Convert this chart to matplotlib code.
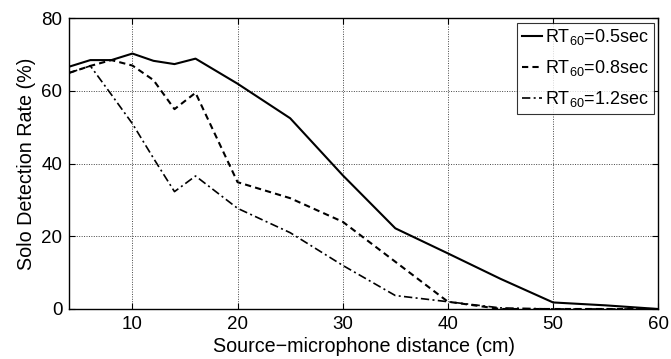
import matplotlib
matplotlib.use("Agg")
import matplotlib.pyplot as plt

plt.rcParams['font.family'] = ['Liberation Sans', 'DejaVu Sans']
plt.rcParams['mathtext.fontset'] = 'custom'
plt.rcParams['mathtext.rm'] = 'Liberation Sans'

distance = [4, 6, 8, 10, 12, 14, 16, 20, 25, 30, 35, 40, 45, 50, 55, 60]
rt_05 = [66.7, 68.5, 68.5, 70.3, 68.3, 67.4, 68.9, 62.0, 52.5, 36.8, 22.2, 15.3, 8.3, 1.8, 1.0, 0.0]
rt_08 = [65.0, 66.9, 68.5, 67.0, 63.0, 55.0, 59.5, 34.9, 30.5, 24.0, 13.0, 2.0, 0.0, 0.0, 0.0, 0.0]
rt_12 = [65.0, 66.9, 59.0, 51.0, 41.5, 32.3, 36.6, 27.7, 21.0, 12.0, 3.7, 2.0, 0.3, 0.0, 0.0, 0.0]
labels = [r'RT$_{60}$=0.5sec', r'RT$_{60}$=0.8sec', r'RT$_{60}$=1.2sec']

fig = plt.figure(figsize=(6.71, 3.59), dpi=100)
ax = fig.add_axes([0.1033, 0.1393, 0.8777, 0.8097])

ax.plot(distance, rt_05, color='black', lw=1.5, ls='-', label=labels[0])
ax.plot(distance, rt_08, color='black', lw=1.5, ls=(0, (3, 2)), label=labels[1])
ax.plot(distance, rt_12, color='black', lw=1.2, ls=(0, (5, 2, 1.2, 2)), label=labels[2])

ax.set_xlim(4, 60)
ax.set_ylim(0, 80)
ax.set_xticks([10, 20, 30, 40, 50, 60])
ax.set_yticks([0, 20, 40, 60, 80])
ax.grid(True, color='#444444', ls=(0, (1, 1.5)), lw=0.7)
ax.tick_params(direction='in', top=True, right=True, labelsize=13.5, length=4, width=0.8, pad=5)
for s in ax.spines.values():
    s.set_linewidth(1.0)

ax.set_xlabel('Source\u2212microphone distance (cm)', fontsize=14.2, labelpad=3)
ax.set_ylabel('Solo Detection Rate (%)', fontsize=14.2, labelpad=4)

leg = ax.legend(loc='upper right', fontsize=13, frameon=True, fancybox=False,
                edgecolor='black', handlelength=1.1, handletextpad=0.2,
                borderpad=0.25, labelspacing=0.6, borderaxespad=0.25)
leg.get_frame().set_linewidth(0.8)

fig.savefig('out.png', dpi=100)
